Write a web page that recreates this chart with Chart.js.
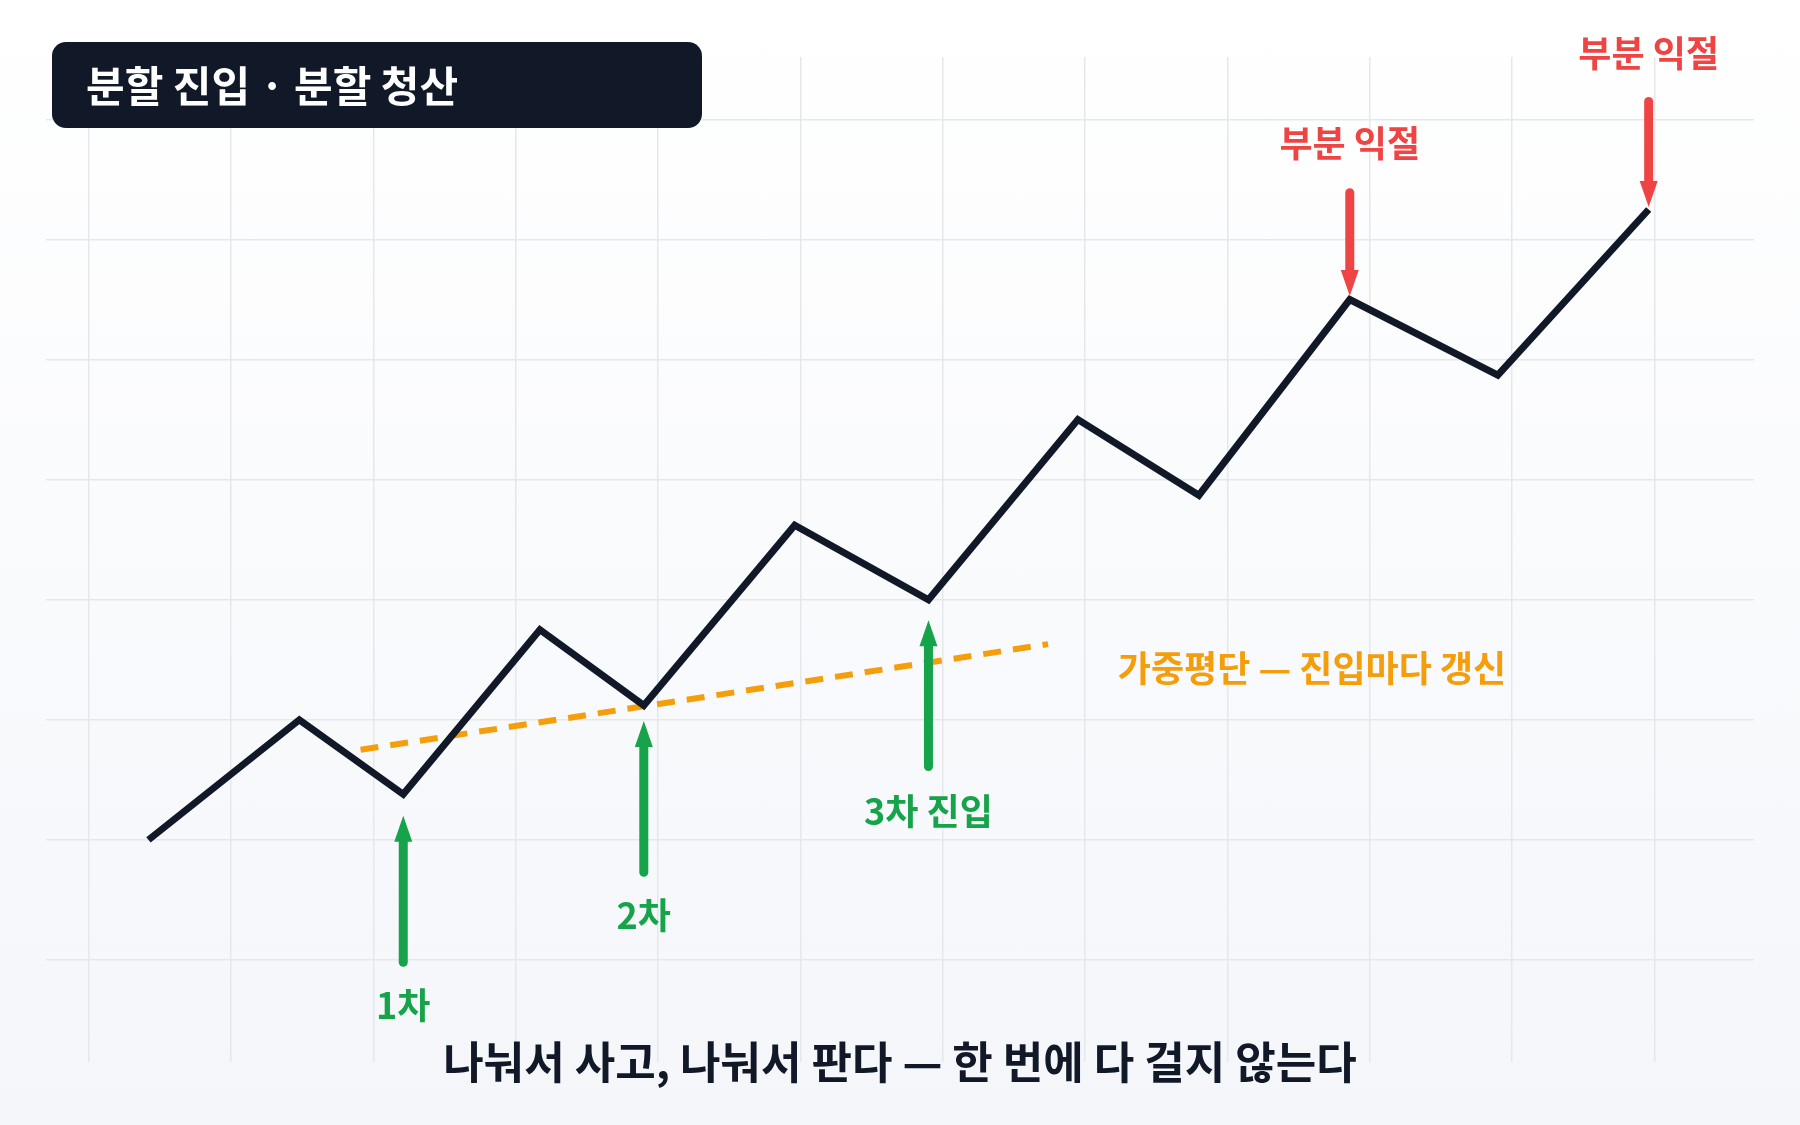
<!DOCTYPE html>
<html><head><meta charset="utf-8">
<script src="https://cdn.jsdelivr.net/npm/chart.js@4"></script>
<style>
html,body{margin:0;padding:0;width:1800px;height:1125px;overflow:hidden;background:linear-gradient(#ffffff,#f4f6fa);}
#wrap{position:relative;width:1800px;height:1125px;}
canvas{display:block;}
</style></head><body>
<div id="wrap"><canvas id="c" width="1800" height="1125"></canvas></div>
<script>
// price path
const priceX = [0.42, 1.48, 2.21, 3.17, 3.9, 4.96, 5.9, 6.95, 7.8, 8.86, 9.9, 10.96];
const priceY = [1.0, 2.0, 1.38, 2.75, 2.12, 3.62, 3.0, 4.5, 3.87, 5.5, 4.87, 6.25];
// weighted average line
const avgX = [1.91, 6.74];
const avgY = [1.75, 2.63];
// arrows: [x, yFrom, yTo]
const buyArrows = [[2.21, -0.02, 1.2], [3.9, 0.73, 1.99], [5.9, 1.61, 2.83]];
const sellArrows = [[8.86, 6.39, 5.53], [10.96, 7.15, 6.27]];
// labels: [text, x, y]
const buyLabels = [['1차', 2.21, -0.38], ['2차', 3.9, 0.37], ['3차 진입', 5.9, 1.24]];
const sellLabels = [['부분 익절', 8.86, 6.8], ['부분 익절', 10.96, 7.55]];
const avgLabel = ['가중평단 — 진입마다 갱신', 7.23, 2.43];
const titleText = '분할 진입 · 분할 청산';
const captionText = '나눠서 사고, 나눠서 판다 — 한 번에 다 걸지 않는다';

const GREEN = '#16a34a', RED = '#ef4444', ORANGE = '#f59e0b', DARK = '#111827';
const FONT = '"Noto Sans CJK KR", "Noto Sans", sans-serif';

function arrow(ctx, x, y1, y2, color) {
    const dir = y2 < y1 ? -1 : 1;
    const head = 20;
    ctx.strokeStyle = color; ctx.fillStyle = color;
    ctx.lineWidth = 9; ctx.lineCap = 'round';
    ctx.beginPath(); ctx.moveTo(x, y1); ctx.lineTo(x, y2 - dir * head); ctx.stroke();
    ctx.beginPath();
    ctx.moveTo(x, y2); ctx.lineTo(x - 9, y2 - dir * head * 1.3); ctx.lineTo(x + 9, y2 - dir * head * 1.3);
    ctx.closePath(); ctx.fill();
}

const overlay = {
    id: 'overlay',
    afterDatasetsDraw(chart) {
        const ctx = chart.ctx, xs = chart.scales.x, ys = chart.scales.y;
        ctx.save();
        buyArrows.forEach(a => arrow(ctx, xs.getPixelForValue(a[0]), ys.getPixelForValue(a[1]), ys.getPixelForValue(a[2]), GREEN));
        sellArrows.forEach(a => arrow(ctx, xs.getPixelForValue(a[0]), ys.getPixelForValue(a[1]), ys.getPixelForValue(a[2]), RED));
        ctx.font = 'bold 36px ' + FONT; ctx.textAlign = 'center'; ctx.textBaseline = 'middle';
        ctx.fillStyle = GREEN;
        buyLabels.forEach(l => ctx.fillText(l[0], xs.getPixelForValue(l[1]), ys.getPixelForValue(l[2])));
        ctx.fillStyle = RED;
        sellLabels.forEach(l => ctx.fillText(l[0], xs.getPixelForValue(l[1]), ys.getPixelForValue(l[2])));
        ctx.fillStyle = ORANGE; ctx.textAlign = 'left';
        ctx.fillText(avgLabel[0], xs.getPixelForValue(avgLabel[1]), ys.getPixelForValue(avgLabel[2]));
        // title box
        ctx.fillStyle = DARK;
        ctx.beginPath(); ctx.roundRect(52, 42, 650, 86, 14); ctx.fill();
        ctx.fillStyle = '#ffffff'; ctx.font = 'bold 42px ' + FONT;
        ctx.fillText(titleText, 86, 86);
        // caption
        ctx.fillStyle = DARK; ctx.font = 'bold 44px ' + FONT; ctx.textAlign = 'center';
        ctx.fillText(captionText, 900, 1062);
        ctx.restore();
    }
};

new Chart(document.getElementById('c'), {
    type: 'line',
    data: {
        datasets: [
            { data: priceX.map((x, i) => ({ x, y: priceY[i] })), borderColor: DARK, borderWidth: 7, pointRadius: 0, borderJoinStyle: 'miter', tension: 0 },
            { data: avgX.map((x, i) => ({ x, y: avgY[i] })), borderColor: ORANGE, borderWidth: 6, borderDash: [18, 12], pointRadius: 0 }
        ]
    },
    options: {
        responsive: false, animation: false, devicePixelRatio: 1,
        layout: { padding: { left: 46, right: 46, top: 57, bottom: 63 } },
        plugins: { legend: { display: false }, tooltip: { enabled: false } },
        scales: {
            x: { type: 'linear', min: -0.3, max: 11.7,
                 afterBuildTicks: s => { s.ticks = [0,1,2,3,4,5,6,7,8,9,10,11].map(v => ({ value: v })); },
                 ticks: { display: false }, border: { display: false },
                 grid: { color: '#e5e7eb', lineWidth: 1.5, drawTicks: false } },
            y: { min: -0.85, max: 7.52,
                 afterBuildTicks: s => { s.ticks = [0,1,2,3,4,5,6,7].map(v => ({ value: v })); },
                 ticks: { display: false }, border: { display: false },
                 grid: { color: '#e5e7eb', lineWidth: 1.5, drawTicks: false } }
        }
    },
    plugins: [overlay]
});
</script>
</body></html>
